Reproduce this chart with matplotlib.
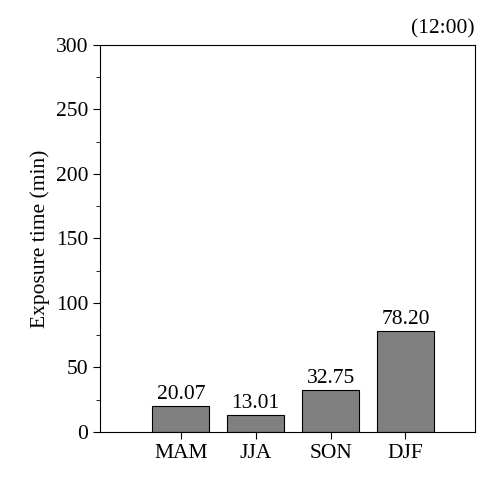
import matplotlib
matplotlib.use("Agg")
import matplotlib.pyplot as plt
from matplotlib.ticker import MultipleLocator

categories = ["MAM", "JJA", "SON", "DJF"]
values = [20.07, 13.01, 32.75, 78.20]

plt.rcParams['font.family'] = ['Liberation Serif', 'DejaVu Serif']
fig = plt.figure(figsize=(5.0, 4.92), dpi=100)
ax = fig.add_axes([0.2, 0.122, 0.75, 0.787])
x = range(len(categories))
ax.bar(x, values, width=0.76, color="#808080", edgecolor="black", linewidth=0.8)
for xi, v in zip(x, values):
    ax.text(xi, v + 1.5, f"{v:.2f}", ha="center", va="bottom", fontsize=15.5)
ax.set_xlim(-1.08, 3.93)
ax.set_ylim(0, 300)
ax.set_xticks(list(x))
ax.set_xticklabels(categories, fontsize=15.5)
ax.yaxis.set_major_locator(MultipleLocator(50))
ax.yaxis.set_minor_locator(MultipleLocator(25))
ax.tick_params(axis='y', labelsize=15.5, direction='out', length=5)
ax.tick_params(axis='y', which='minor', length=3)
ax.tick_params(axis='x', direction='out', length=5)
ax.set_ylabel("Exposure time (min)", fontsize=15.5)
ax.text(1.0, 1.015, "(12:00)", transform=ax.transAxes, ha="right", va="bottom", fontsize=15.5)
fig.savefig("out.png", dpi=100)
